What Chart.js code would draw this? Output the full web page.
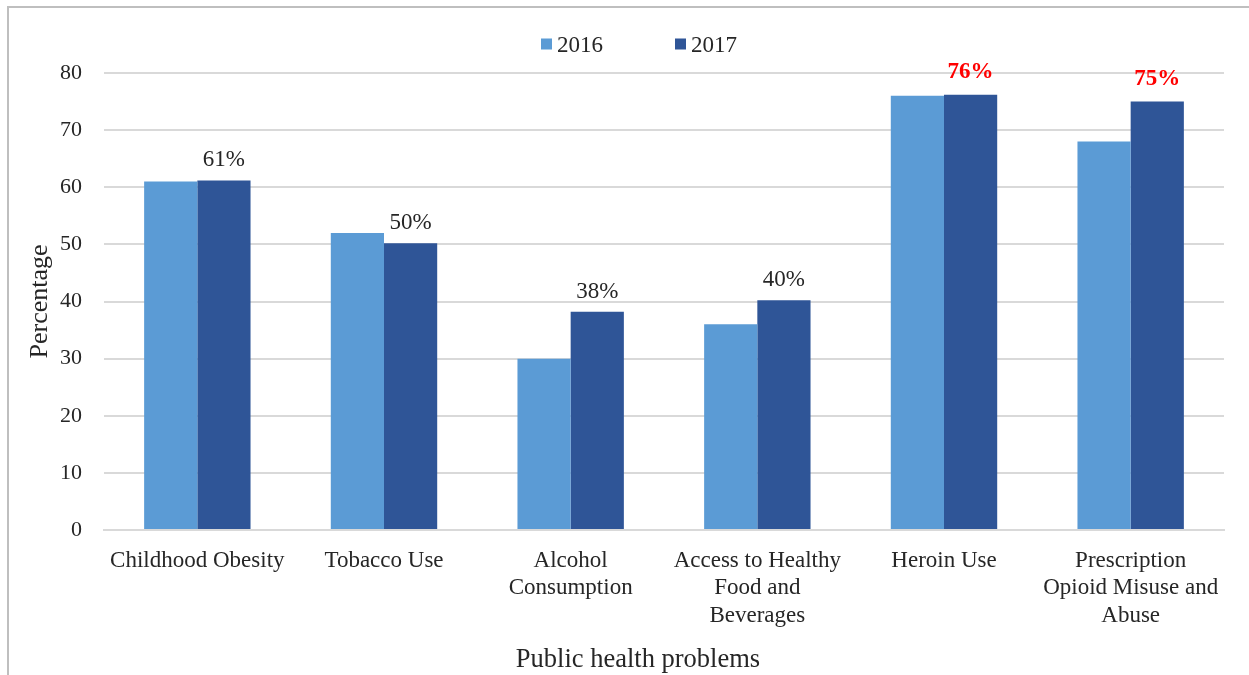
<!DOCTYPE html>
<html>
<head>
<meta charset="utf-8">
<script src="https://cdn.jsdelivr.net/npm/chart.js@4"></script>
<style>
  body { margin: 0; background: #fff; }
  #wrap { position: relative; width: 1249px; height: 675px; overflow: hidden; }
  #frame { position: absolute; left: 7px; top: 6px; width: 1300px; height: 700px;
           border-left: 2px solid #bfbfbf; border-top: 2px solid #bfbfbf; pointer-events: none; }
  canvas { position: absolute; left: 0; top: 0; }
</style>
</head>
<body>
<div id="wrap">
  <canvas id="healthChart" width="1249" height="675"></canvas>
  <div id="frame"></div>
</div>
<script>
// categorie e valori
const categorie = [
    ["Childhood Obesity"],
    ["Tobacco Use"],
    ["Alcohol", "Consumption"],
    ["Access to Healthy", "Food and", "Beverages"],
    ["Heroin Use"],
    ["Prescription", "Opioid Misuse and", "Abuse"]
];
const valori2016 = [61, 52, 30, 36, 76, 68];
const valori2017 = [61.2, 50.2, 38.2, 40.2, 76.2, 75];
const etichette2017 = ["61%", "50%", "38%", "40%", "76%", "75%"];
const evidenziate = [false, false, false, false, true, true];
const yTicks = [0, 10, 20, 30, 40, 50, 60, 70, 80];
const titoloX = "Public health problems";

const FONT = '"Liberation Serif", "Times New Roman", serif';
const TESTO = "#262626";

// etichette sopra le barre del 2017
const etichettePlugin = {
    id: "etichette",
    afterDatasetsDraw(chart) {
        const ctx = chart.ctx;
        const meta = chart.getDatasetMeta(1);
        ctx.save();
        ctx.textAlign = "center";
        ctx.textBaseline = "middle";
        meta.data.forEach((bar, i) => {
            if (evidenziate[i]) {
                ctx.font = "bold 23px " + FONT;
                ctx.fillStyle = "#ff0000";
                ctx.fillText(etichette2017[i], bar.x, bar.y - 23);
            } else {
                ctx.font = "23px " + FONT;
                ctx.fillStyle = TESTO;
                ctx.fillText(etichette2017[i], bar.x, bar.y - 20);
            }
        });
        ctx.restore();
    }
};

// legenda e titolo asse x disegnati a mano
const legendaPlugin = {
    id: "legenda",
    afterDraw(chart) {
        const ctx = chart.ctx;
        const box = 11, gap = 5, spazio = 72, centro = 639, y = 46;
        ctx.save();
        ctx.font = "23px " + FONT;
        ctx.textBaseline = "middle";
        const items = chart.data.datasets.map(d => ({
            label: d.label, colore: d.backgroundColor, w: box + gap + ctx.measureText(d.label).width
        }));
        const totale = items.reduce((s, it) => s + it.w, 0) + spazio * (items.length - 1);
        let x = centro - totale / 2;
        items.forEach(it => {
            ctx.fillStyle = it.colore;
            ctx.fillRect(x, y - box / 2 - 2, box, box);
            ctx.fillStyle = TESTO;
            ctx.fillText(it.label, x + box + gap, y);
            x += it.w + spazio;
        });
        ctx.font = "26.5px " + FONT;
        ctx.textAlign = "center";
        ctx.fillText(titoloX, 638, 660);
        ctx.restore();
    }
};

const ctx = document.getElementById("healthChart").getContext("2d");
new Chart(ctx, {
    type: "bar",
    data: {
        labels: categorie,
        datasets: [
            { label: "2016", data: valori2016, backgroundColor: "#5B9BD5" },
            { label: "2017", data: valori2017, backgroundColor: "#2F5597" }
        ]
    },
    options: {
        responsive: false,
        animation: false,
        layout: { padding: { top: 73, right: 25, bottom: 0, left: 0 } },
        datasets: { bar: { categoryPercentage: 0.57, barPercentage: 1.0 } },
        plugins: {
            legend: { display: false },
            tooltip: { enabled: false }
        },
        scales: {
            x: {
                grid: { display: false, drawTicks: false },
                border: { display: true, color: "#d9d9d9", width: 2 },
                ticks: {
                    color: TESTO, font: { family: FONT, size: 23 },
                    padding: 17, maxRotation: 0, autoSkip: false
                },
                afterFit: s => { s.height = 675 - 530; }
            },
            y: {
                min: 0, max: 80,
                afterBuildTicks: s => { s.ticks = yTicks.map(v => ({ value: v })); },
                grid: { color: "#d9d9d9", lineWidth: 2, drawTicks: false },
                border: { display: false },
                ticks: { color: TESTO, font: { family: FONT, size: 22 }, padding: 22 },
                title: {
                    display: true, text: "Percentage", color: TESTO,
                    font: { family: FONT, size: 26 }, padding: { top: 25, bottom: 0 }
                },
                afterFit: s => { s.width = 104; }
            }
        }
    },
    plugins: [etichettePlugin, legendaPlugin]
});
</script>
</body>
</html>
